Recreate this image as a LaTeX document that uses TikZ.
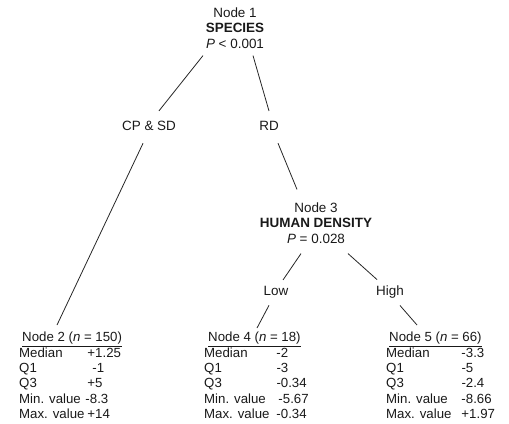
\documentclass[tikz,border=0pt]{standalone}
\usepackage{fontspec}
\setmainfont{Liberation Sans}
\usetikzlibrary{positioning}
\tikzset{
x=1bp, y=-1bp, % pixel-like units, y going down
every node/.style={inner sep=0pt, text=black!90}, % tight nodes
split/.style={align=center, font=\fontsize{13.5}{15.5}\selectfont}, % the test nodes
branchtext/.style={anchor=base, font=\fontsize{13.5}{15.5}\selectfont}, % the labels on the branches
leaf/.style={anchor=north west, font=\fontsize{13.3}{15.3}\selectfont}, % the terminal tables
branch/.style={draw=black!85, line width=0.8bp}, % the lines of the tree
}

\begin{document}
\begin{tikzpicture}
                \useasboundingbox (0,0) rectangle (509,423);

                \node[split] (node1) at (235,28) {Node 1\\\textbf{SPECIES}\\\textit{P} < 0.001};

                \node[branchtext] (cp_sd) at (149,130) {CP \& SD};
                \node[branchtext] (rd) at (269,130) {RD};

                \node[split] (node3) at (316,223) {Node 3\\\textbf{HUMAN DENSITY}\\\textit{P} = 0.028};

                \node[branchtext] (low) at (276,295) {Low};
                \node[branchtext] (high) at (390,295.5) {High};

                % terminal nodes
                \node[leaf] (node2) at (19,331) {\begin{tabular}{@{}l@{\hspace{3bp}}l@{}}
                    \multicolumn{2}{@{}l@{}}{\hspace{3bp}\underline{Node 2 (\textit{n} = 150)}}\\
                    Median & +1.25\\
                    Q1 & \hspace{5bp}-1\\
                    Q3 & +5\\
                    Min. value & \hspace{-2bp}-8.3\\
                    Max. value & +14
                \end{tabular}};
                \node[leaf] (node4) at (204,331) {\begin{tabular}{@{}l@{\hspace{7bp}}l@{}}
                    \multicolumn{2}{@{}l@{}}{\hspace{4bp}\underline{Node 4 (\textit{n} = 18)}}\\
                    Median & -2\\
                    Q1 & -3\\
                    Q3 & -0.34\\
                    Min. value & \hspace{2bp}-5.67\\
                    Max. value & -0.34
                \end{tabular}};
                \node[leaf] (node5) at (386,331) {\begin{tabular}{@{}l@{\hspace{10bp}}l@{}}
                    \multicolumn{2}{@{}l@{}}{\hspace{3bp}\underline{Node 5 (\textit{n} = 66)}}\\
                    Median & -3.3\\
                    Q1 & -5\\
                    Q3 & -2.4\\
                    Min. value & -8.66\\
                    Max. value & +1.97
                \end{tabular}};

                \draw[branch]
                    ([xshift=-32bp,yshift=-7bp]node1.south) -- ([xshift=10bp,yshift=9.6bp]cp_sd.north)
                    ([xshift=18bp,yshift=-7bp]node1.south) -- ([yshift=9.6bp]rd.north)
                    ([xshift=-6bp,yshift=-13bp]cp_sd.south) -- ([xshift=38bp,yshift=6bp]node2.north west)
                    ([xshift=9bp,yshift=-13bp]rd.south) -- ([xshift=-19bp,yshift=13bp]node3.north)
                    ([xshift=-15bp,yshift=-10bp]node3.south) -- ([xshift=7bp,yshift=5.6bp]low.north)
                    ([xshift=32bp,yshift=-10bp]node3.south) -- ([xshift=-13bp,yshift=6bp]high.north)
                    ([xshift=-7bp,yshift=-10bp]low.south) -- ([xshift=53bp,yshift=3bp]node4.north west)
                    ([xshift=10bp,yshift=-7bp]high.south) -- ([xshift=31bp,yshift=6bp]node5.north west);
\end{tikzpicture}
\end{document}
